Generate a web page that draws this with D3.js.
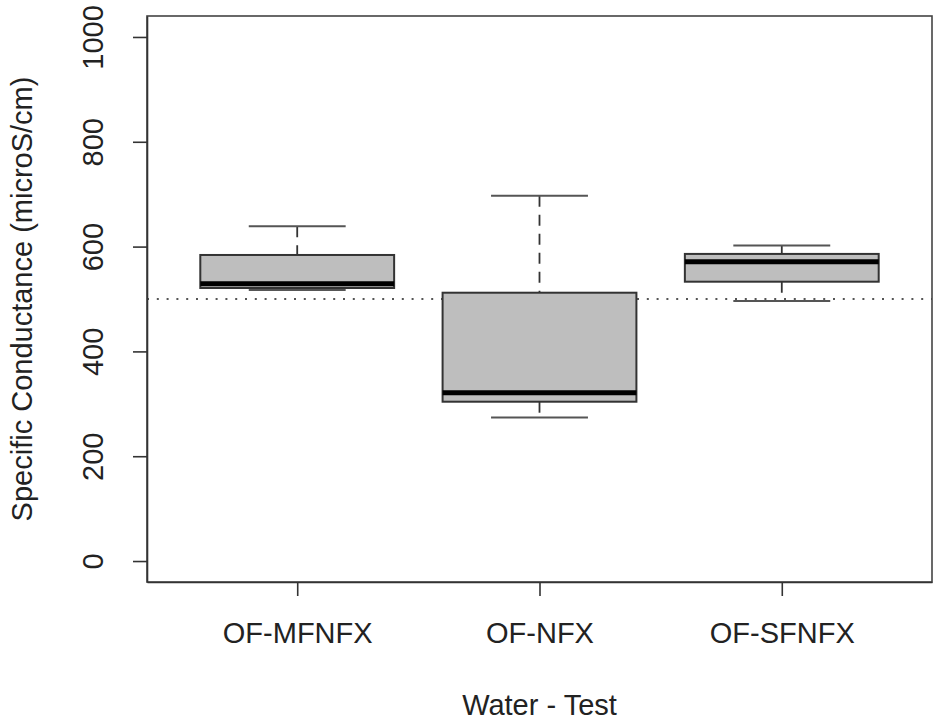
<!DOCTYPE html>
<html>
<head>
<meta charset="utf-8">
<script src="https://cdn.jsdelivr.net/npm/d3@7"></script>
<style>
  body { margin: 0; background: #fff; }
  svg text { font-family: "Liberation Sans", Arial, sans-serif; fill: #222; }
</style>
</head>
<body>
<svg id="chart" width="944" height="728"></svg>
<script>
// boxplot stats
var categories = ["OF-MFNFX", "OF-NFX", "OF-SFNFX"];
var lowerWhisker = [517, 274, 496];
var q1 = [521, 304, 533];
var median = [529, 321, 571];
var q3 = [584, 512, 586];
var upperWhisker = [639, 697, 602];
var yTicks = [0, 200, 400, 600, 800, 1000];
var refLine = 500;

function drawBoxplot() {
    var plotLeft = 147, plotRight = 932, plotTop = 16, plotBottom = 582;
    var fontSize = 29;

    var svg = d3.select('#chart');

    // R style: limits extended by 4%
    var y = d3.scaleLinear().domain([-40, 1040]).range([plotBottom, plotTop]);
    var x = d3.scaleLinear().domain([0.38, 3.62]).range([plotLeft, plotRight]);

    var boxes = categories.map(function(c, i) {
        return { name: c, pos: i + 1, lo: lowerWhisker[i], q1: q1[i], med: median[i], q3: q3[i], hi: upperWhisker[i] };
    });

    var halfBox = x(1.4) - x(1);
    var halfCap = halfBox / 2;

    // reference line
    svg.append('line')
        .attr('x1', plotLeft).attr('x2', plotRight)
        .attr('y1', y(refLine)).attr('y2', y(refLine))
        .style('stroke', '#555')
        .style('stroke-width', 2)
        .style('stroke-dasharray', '2,7.8');

    var g = svg.append('g').selectAll('g')
        .data(boxes)
        .enter().append('g');

    // whiskers (dashed)
    g.append('line')
        .attr('x1', function(d) { return x(d.pos); })
        .attr('x2', function(d) { return x(d.pos); })
        .attr('y1', function(d) { return y(d.hi); })
        .attr('y2', function(d) { return y(d.q3); })
        .style('stroke', '#333').style('stroke-width', 1.8)
        .style('stroke-dasharray', '11,8');
    g.append('line')
        .attr('x1', function(d) { return x(d.pos); })
        .attr('x2', function(d) { return x(d.pos); })
        .attr('y1', function(d) { return y(d.q1); })
        .attr('y2', function(d) { return y(d.lo); })
        .style('stroke', '#333').style('stroke-width', 1.8)
        .style('stroke-dasharray', '11,8');

    // staples
    ['hi', 'lo'].forEach(function(k) {
        g.append('line')
            .attr('x1', function(d) { return x(d.pos) - halfCap; })
            .attr('x2', function(d) { return x(d.pos) + halfCap; })
            .attr('y1', function(d) { return y(d[k]); })
            .attr('y2', function(d) { return y(d[k]); })
            .style('stroke', '#555').style('stroke-width', 2);
    });

    // boxes
    g.append('rect')
        .attr('x', function(d) { return x(d.pos) - halfBox; })
        .attr('width', 2 * halfBox)
        .attr('y', function(d) { return y(d.q3); })
        .attr('height', function(d) { return y(d.q1) - y(d.q3); })
        .style('fill', '#bebebe')
        .style('stroke', '#333')
        .style('stroke-width', 2);

    // medians
    g.append('line')
        .attr('x1', function(d) { return x(d.pos) - halfBox; })
        .attr('x2', function(d) { return x(d.pos) + halfBox; })
        .attr('y1', function(d) { return y(d.med); })
        .attr('y2', function(d) { return y(d.med); })
        .style('stroke', '#000').style('stroke-width', 5);

    // frame
    svg.append('rect')
        .attr('x', plotLeft).attr('y', plotTop)
        .attr('width', plotRight - plotLeft).attr('height', plotBottom - plotTop)
        .style('fill', 'none').style('stroke', '#444').style('stroke-width', 1.6);

    // y axis
    var yAxis = svg.append('g')
        .attr('transform', 'translate(' + plotLeft + ',0)')
        .call(d3.axisLeft(y).tickValues(yTicks).tickFormat(d3.format('d'))
            .tickSize(14).tickPadding(0).tickSizeOuter(0));
    yAxis.select('.domain').style('stroke', '#333').style('stroke-width', 1.6);
    yAxis.selectAll('.tick line').style('stroke', '#333').style('stroke-width', 1.6);
    yAxis.selectAll('.tick text')
        .attr('x', 0).attr('dy', null)
        .attr('transform', 'translate(-54,0) rotate(-90)')
        .attr('text-anchor', 'middle')
        .attr('dominant-baseline', 'central')
        .style('font-size', fontSize + 'px')
        .style('fill', '#222')
        .style('font-family', '"Liberation Sans", Arial, sans-serif');

    // x axis
    var xAxis = svg.append('g')
        .attr('transform', 'translate(0,' + plotBottom + ')')
        .call(d3.axisBottom(x).tickValues([1, 2, 3])
            .tickFormat(function(d) { return categories[d - 1]; })
            .tickSize(14).tickPadding(0).tickSizeOuter(0));
    xAxis.select('.domain').style('stroke', '#333').style('stroke-width', 1.6);
    xAxis.selectAll('.tick line').style('stroke', '#333').style('stroke-width', 1.6);
    xAxis.selectAll('.tick text')
        .attr('y', 51).attr('dy', null)
        .attr('dominant-baseline', 'central')
        .style('font-size', fontSize + 'px')
        .style('fill', '#222')
        .style('font-family', '"Liberation Sans", Arial, sans-serif');

    // axis titles
    svg.append('text')
        .attr('x', (plotLeft + plotRight) / 2).attr('y', 705)
        .attr('text-anchor', 'middle')
        .attr('dominant-baseline', 'central')
        .style('font-size', fontSize + 'px')
        .text('Water - Test');

    svg.append('text')
        .attr('transform', 'translate(22,' + (plotTop + plotBottom) / 2 + ') rotate(-90)')
        .attr('text-anchor', 'middle')
        .attr('dominant-baseline', 'central')
        .style('font-size', fontSize + 'px')
        .text('Specific Conductance (microS/cm)');
}

drawBoxplot();
</script>
</body>
</html>
